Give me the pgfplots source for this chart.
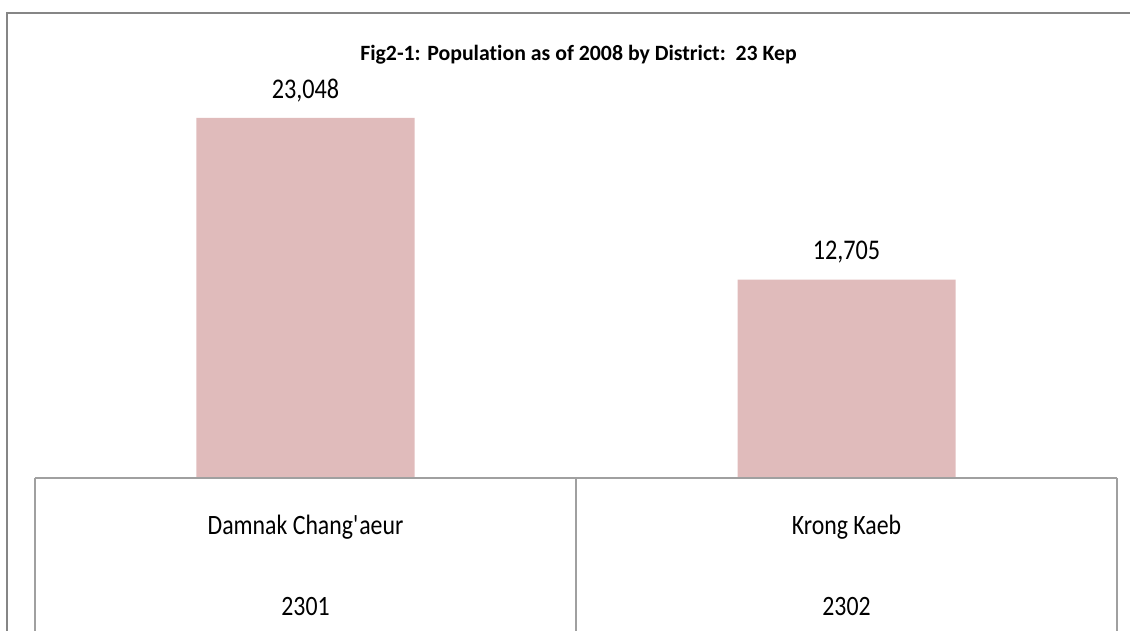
\documentclass[border=0pt]{standalone}
\usepackage{pgfplots}
\pgfplotsset{compat=1.18}
\usepackage{fontspec}
\setmainfont{Carlito}[FakeStretch=0.85, Ligatures=NoCommon]
\newfontfamily\titlefont{Carlito}[Ligatures=NoCommon]
\definecolor{barpink}{RGB}{224,187,187}
\definecolor{framegray}{RGB}{134,134,134}
\definecolor{tablegray}{RGB}{160,160,160}
\begin{document}
\begin{tikzpicture}
\useasboundingbox (-17.5pt,-76.5pt) rectangle (547.5pt,239pt);
\draw[framegray, line width=1pt] (-14pt,-90pt) -- (-14pt,232.5pt) -- (570pt,232.5pt);
\node[anchor=base, font=\titlefont\bfseries\fontsize{10.9}{13}\selectfont] at (271.75pt,208.5pt) {Fig2-1: Population as of 2008 by District:\ \ 23 Kep};
\begin{axis}[
  scale only axis, width=541pt, height=195.25pt,
  xmin=-0.5, xmax=1.5, ymin=0, ymax=25000,
  hide axis, clip=false,
  ybar, bar width=109pt,
  nodes near coords,
  /pgf/number format/.cd, 1000 sep={,}, assume math mode=true,
  /pgfplots/.cd,
  every node near coord/.append style={font=\fontsize{14.25}{17}\selectfont, anchor=base, yshift=9.8pt, inner sep=0pt},
]
\addplot[fill=barpink, draw=none] coordinates {(0,23048) (1,12705)};
\draw[tablegray, line width=0.75pt] (axis cs:-0.5,0) -- (axis cs:1.5,0);
\draw[tablegray, line width=0.75pt] (axis cs:-0.5,0) -- ++(0pt,-90pt);
\draw[tablegray, line width=0.75pt] (axis cs:0.5,0) -- ++(0pt,-90pt);
\draw[tablegray, line width=0.75pt] (axis cs:1.5,0) -- ++(0pt,-90pt);
\node[anchor=base, font=\fontsize{14}{16}\selectfont] at ([yshift=-28pt]axis cs:0,0) {Damnak Chang\textquotesingle aeur};
\node[anchor=base, font=\fontsize{14}{16}\selectfont] at ([yshift=-28pt]axis cs:1,0) {Krong Kaeb};
\node[anchor=base, font=\fontsize{14}{16}\selectfont] at ([yshift=-68.5pt]axis cs:0,0) {2301};
\node[anchor=base, font=\fontsize{14}{16}\selectfont] at ([yshift=-68.5pt]axis cs:1,0) {2302};
\end{axis}
\end{tikzpicture}
\end{document}
